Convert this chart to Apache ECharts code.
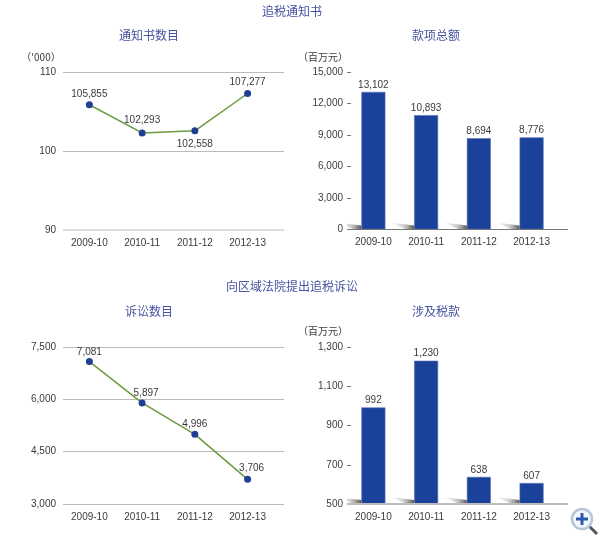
<!DOCTYPE html>
<html>
<head>
    <meta charset="utf-8">
    <title>追税通知书</title>
    <script src="https://cdn.jsdelivr.net/npm/echarts@6/dist/echarts.min.js"></script>
    <style>
        html, body { margin: 0; padding: 0; background: #fff; }
        #chart { width: 601px; height: 536px; }
    </style>
</head>
<body>
<div id="chart"></div>
<script>
    var periods = ['2009-10', '2010-11', '2011-12', '2012-13'];
    var noticeCounts = [105855, 102293, 102558, 107277];
    var noticeAmounts = [13102, 10893, 8694, 8776];
    var suitCounts = [7081, 5897, 4996, 3706];
    var taxAmounts = [992, 1230, 638, 607];

    var FONT = '"Liberation Sans", Arial, sans-serif';
    var CJK = '"Noto Sans CJK SC", sans-serif';
    var TEXT = '#3a3a3a';
    var BLUE_TITLE = '#46529f';
    var BAR = '#1a429a';
    var X_MIN = -0.5, X_MAX = 3.69;

    // 四个图的位置
    var slots = [
        {left: 63, top: 72, width: 221, height: 158},
        {left: 347, top: 72, width: 221, height: 157.5},
        {left: 63, top: 347, width: 221, height: 157},
        {left: 347, top: 347, width: 221, height: 157}
    ];

    // 折线图数据标签的摆放
    var noticeLabels = [
        {position: 'top', distance: 2},
        {position: 'top', distance: 4},
        {position: 'bottom', distance: 5},
        {position: 'top', distance: 3}
    ];
    var suitLabels = [
        {position: 'top', distance: 1},
        {position: 'top', distance: 1, offset: [4, 0]},
        {position: 'top', distance: 2},
        {position: 'top', distance: 3, offset: [4, 0]}
    ];

    function pairs(values) {
        return values.map(function (v, i) { return [i, v]; });
    }

    function thousands(v) {
        return String(v).replace(/\B(?=(\d{3})+$)/g, ',');
    }

    function head(text, x, y, size, color, family) {
        return {
            text: text, left: x, top: y, textAlign: 'center', padding: 0,
            textStyle: {fontSize: size, color: color, fontWeight: 'normal', fontFamily: family, lineHeight: 14}
        };
    }

    // 底部的 x 轴:留出右侧空位,网格线比最后一根柱子长
    function xAxisFor(idx) {
        return {
            type: 'value', gridIndex: idx, min: X_MIN, max: X_MAX,
            splitLine: {show: false}, axisLine: {show: false}, axisTick: {show: false},
            axisLabel: {
                customValues: [0, 1, 2, 3],
                margin: 8, fontSize: 10, color: TEXT, fontFamily: FONT,
                formatter: function (v) { return periods[v]; }
            }
        };
    }

    function lineY(idx, min, max, interval, fmt) {
        return {
            type: 'value', gridIndex: idx, min: min, max: max, interval: interval,
            axisLine: {show: false, onZero: false}, axisTick: {show: false},
            axisLabel: {margin: 7, fontSize: 10, color: TEXT, fontFamily: FONT, formatter: fmt, padding: [4, 0, 0, 0]},
            splitLine: {show: true, lineStyle: {width: 1, color: '#bcbcbc'}}
        };
    }

    function barY(idx, min, max, interval) {
        return {
            type: 'value', gridIndex: idx, min: min, max: max, interval: interval,
            axisLine: {show: false, onZero: false},
            axisTick: {show: true, inside: true, length: 4, lineStyle: {color: '#777'}},
            axisLabel: {margin: 4, fontSize: 10, color: TEXT, fontFamily: FONT, formatter: thousands, padding: [4, 0, 0, 0]},
            splitLine: {show: false}
        };
    }

    function lineSeries(idx, values, labels) {
        return {
            type: 'line', xAxisIndex: idx, yAxisIndex: idx,
            data: values.map(function (v, i) {
                return {value: [i, v], label: labels[i]};
            }),
            symbol: 'circle', symbolSize: 7, z: 3,
            lineStyle: {color: '#6b9a3f', width: 1.5},
            itemStyle: {color: '#1f3f95'},
            label: {
                show: true, fontSize: 10, color: TEXT, fontFamily: FONT,
                formatter: function (p) { return thousands(p.value[1]); }
            }
        };
    }

    function barSeries(idx, values) {
        return {
            type: 'bar', xAxisIndex: idx, yAxisIndex: idx, z: 3,
            data: pairs(values), barWidth: 24,
            itemStyle: {color: BAR, borderColor: '#5a72b8', borderWidth: 0.6},
            label: {
                show: true, position: 'top', distance: 2, fontSize: 10, color: TEXT, fontFamily: FONT,
                formatter: function (p) { return thousands(p.value[1]); }
            }
        };
    }

    // 柱子左下角的投影
    function shadowSeries(idx, values) {
        return {
            type: 'custom', xAxisIndex: idx, yAxisIndex: idx, z: 2, silent: true, clip: true,
            data: pairs(values),
            renderItem: function (params, api) {
                var cs = params.coordSys;
                var y = cs.y + cs.height;
                var right = api.coord([api.value(0), api.value(1)])[0] - 12;
                return {
                    type: 'polygon',
                    shape: {points: [[right - 23, y - 7], [right, y - 4], [right, y], [right - 8, y]]},
                    style: {
                        fill: new echarts.graphic.LinearGradient(0, 0, 1, 0, [
                            {offset: 0, color: 'rgba(210,210,210,0.15)'},
                            {offset: 0.55, color: 'rgba(170,165,165,0.55)'},
                            {offset: 1, color: 'rgba(70,65,65,0.9)'}
                        ])
                    }
                };
            }
        };
    }

    // 基线
    function baseline(idx, value, color, width) {
        return {
            type: 'line', xAxisIndex: idx, yAxisIndex: idx, silent: true, symbol: 'none', z: 4,
            data: [[X_MIN, value], [X_MAX, value]],
            lineStyle: {color: color, width: width}
        };
    }

    var chart = echarts.init(document.getElementById('chart'), null, {renderer: 'canvas'});

    chart.setOption({
        animation: false,
        backgroundColor: '#fff',
        title: [
            head('追税通知书', 292, 4, 12, BLUE_TITLE, CJK),
            head('通知书数目', 149, 28, 12, BLUE_TITLE, CJK),
            head('款项总额', 436, 28, 12, BLUE_TITLE, CJK),
            head('向区域法院提出追税诉讼', 292, 279, 12, BLUE_TITLE, CJK),
            head('诉讼数目', 149, 304, 12, BLUE_TITLE, CJK),
            head('涉及税款', 436, 304, 12, BLUE_TITLE, CJK),
            head("（'000）", 41, 50, 10, TEXT, CJK),
            head('（百万元）', 323, 50, 10, TEXT, CJK),
            head('（百万元）', 323, 324, 10, TEXT, CJK)
        ],
        grid: slots.map(function (s) {
            return {left: s.left, top: s.top, width: s.width, height: s.height};
        }),
        xAxis: [xAxisFor(0), xAxisFor(1), xAxisFor(2), xAxisFor(3)],
        yAxis: [
            lineY(0, 90000, 110000, 10000, function (v) { return v / 1000; }),
            barY(1, 0, 15000, 3000),
            lineY(2, 3000, 7500, 1500, thousands),
            barY(3, 500, 1300, 200)
        ],
        series: [
            baseline(0, 90000, '#dedede', 2),
            lineSeries(0, noticeCounts, noticeLabels),
            shadowSeries(1, noticeAmounts),
            barSeries(1, noticeAmounts),
            baseline(1, 0, '#777', 1),
            lineSeries(2, suitCounts, suitLabels),
            shadowSeries(3, taxAmounts),
            barSeries(3, taxAmounts),
            baseline(3, 500, '#bdbdbd', 2)
        ],
        graphic: [
            // 右下角放大镜
            {type: 'line', shape: {x1: 588, y1: 525, x2: 597, y2: 534}, style: {stroke: '#555', lineWidth: 3}},
            {type: 'circle', shape: {cx: 582, cy: 519, r: 10}, style: {fill: '#f4f8fd', stroke: '#b4c6d8', lineWidth: 2.5}},
            {type: 'rect', shape: {x: 576, y: 517.5, width: 12, height: 3}, style: {fill: '#2b58b0'}},
            {type: 'rect', shape: {x: 580.5, y: 513, width: 3, height: 12}, style: {fill: '#2b58b0'}}
        ]
    });
</script>
</body>
</html>
